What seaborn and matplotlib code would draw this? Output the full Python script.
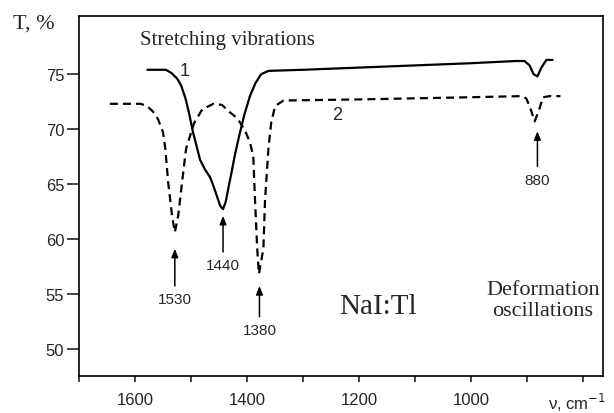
import numpy as np
import pandas as pd
import matplotlib
matplotlib.use("Agg")
import matplotlib.pyplot as plt
import seaborn as sns

# curve 1 (solid line), wavenumber cm-1 / transmission %
wn_1 = [1578, 1545, 1535, 1525, 1518, 1510, 1503, 1497, 1490, 1484, 1475, 1466,
        1460, 1454, 1448, 1443, 1438, 1434, 1428, 1422, 1415, 1405, 1395, 1385,
        1375, 1362, 1300, 1200, 1100, 1000, 920, 905, 896, 889, 882, 875, 866, 855]
t_1 = [75.4, 75.4, 75.1, 74.6, 74.0, 72.8, 71.3, 69.8, 68.4, 67.2, 66.3, 65.6,
       64.8, 63.9, 63.0, 62.7, 63.4, 64.5, 66.0, 67.6, 69.2, 71.3, 73.0, 74.2,
       75.0, 75.3, 75.4, 75.6, 75.8, 76.0, 76.2, 76.2, 75.8, 75.0, 74.8, 75.6, 76.3, 76.3]

# curve 2 (dashed line)
wn_2 = [1645, 1590, 1579, 1568, 1559, 1550, 1546, 1541, 1534, 1529, 1523, 1516,
        1509, 1495, 1480, 1460, 1445, 1430, 1418, 1405, 1395, 1389, 1386, 1382,
        1379, 1371, 1368, 1362, 1357, 1350, 1335, 1200, 1000, 910, 902, 894,
        887, 880, 872, 860, 841]
t_2 = [72.3, 72.3, 72.1, 71.6, 70.9, 69.7, 68.2, 65.2, 62.1, 60.6, 62.1, 65.2,
       68.2, 70.5, 71.8, 72.3, 72.2, 71.5, 71.0, 70.0, 68.8, 67.5, 63.6, 59.1,
       56.8, 59.1, 63.6, 68.2, 70.6, 72.1, 72.6, 72.7, 72.9, 73.0, 72.8, 71.8,
       70.7, 71.6, 72.9, 73.0, 73.0]

# arrows marking the bands
peak_labels = ["1530", "1440", "1380", "880"]
arrow_x = [1529, 1443, 1378, 882]
arrow_tip = [59.1, 62.1, 55.7, 69.8]
arrow_tail = [55.7, 58.8, 52.9, 66.6]

x_major = [1600, 1400, 1200, 1000]
x_minor = [1700, 1500, 1300, 1100, 900, 800]
y_ticks = [50, 55, 60, 65, 70, 75]

sns.set_style("ticks")
plt.rcParams['font.family'] = ['Liberation Sans', 'DejaVu Sans']

fig = plt.figure(figsize=(6.14, 4.14), dpi=100)
ax = fig.add_axes([79 / 614, 1 - 377 / 414, (603 - 79) / 614, (377 - 17) / 414])

sns.lineplot(x=wn_1, y=t_1, sort=False, estimator=None, color="black", lw=1.6, ax=ax)
sns.lineplot(x=wn_2, y=t_2, sort=False, estimator=None, color="black", lw=1.6,
             linestyle=(0, (3.6, 2.3)), ax=ax)

ax.set_xlim(1700, 765)
ax.set_ylim(47.5, 80.3)
ax.set_xticks(x_major)
ax.set_xticks(x_minor, minor=True)
ax.set_yticks(y_ticks)
ax.tick_params(axis="x", which="both", direction="out", length=4.3, width=1.2, pad=7, labelsize=12)
ax.tick_params(axis="y", direction="out", length=8.6, width=1.2, pad=2, labelsize=12)
for s in ax.spines.values():
    s.set_linewidth(1.2)
    s.set_color("black")
ax.set_xlabel("")
ax.set_ylabel("")

for lab, x, tip, tail in zip(peak_labels, arrow_x, arrow_tip, arrow_tail):
    ax.annotate("", xy=(x, tip), xytext=(x, tail),
                arrowprops=dict(arrowstyle="-|>,head_length=0.5,head_width=0.2",
                                color="black", lw=1.1, shrinkA=0, shrinkB=0))
    ax.text(x, tail - 1.2, lab, ha="center", va="center", fontsize=11)

serif = ["Liberation Serif", "DejaVu Serif"]
ax.text(1591, 78.2, "Stretching vibrations", ha="left", va="center", family=serif, fontsize=15)
ax.text(1512, 75.3, "1", ha="center", va="center", fontsize=13)
ax.text(1240, 71.3, "2", ha="center", va="center", fontsize=13)
ax.text(1166, 53.9, "NaI:Tl", ha="center", va="center", family=serif, fontsize=21)
ax.text(771, 54.4, "Deformation\noscillations", ha="right", va="center",
        multialignment="center", family=serif, fontsize=16, linespacing=1.15)

fig.text(13 / 614, 1 - 24 / 414, "T, %", ha="left", va="center", family=serif, fontsize=16)
fig.text(606 / 614, 1 - 403 / 414, "ν, cm$^{-1}$", ha="right", va="center", fontsize=12)

fig.savefig("out.png", dpi=100)
